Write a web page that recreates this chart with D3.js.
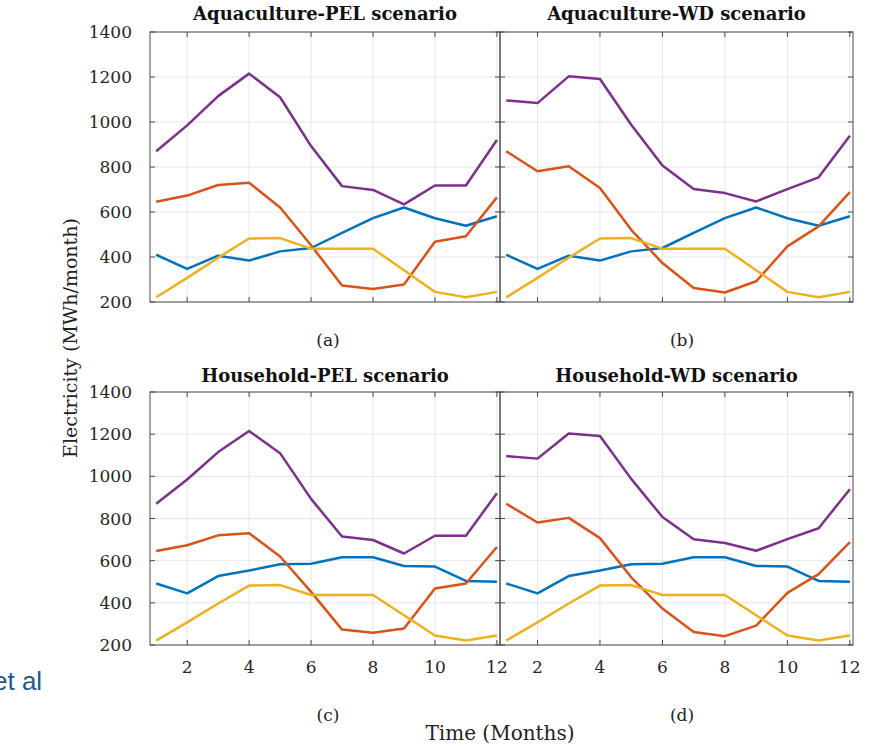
<!DOCTYPE html>
<html>
<head>
  <meta charset="utf-8">
  <title>Electricity scenarios</title>
  <script src="https://d3js.org/d3.v7.min.js"></script>
  <style>
    body, html { margin: 0; padding: 0; background: #fff; }
    svg { display: block; }
    .tick-label { font: 17px "DejaVu Serif", serif; fill: #262626; }
    .title { font: bold 18px "DejaVu Serif", serif; fill: #111; }
    .caption { font: 17px "DejaVu Serif", serif; fill: #222; }
    .grid { stroke: #e6e6e6; stroke-width: 1; }
    .frame { fill: none; stroke: #4a4a4a; stroke-width: 1; }
    .series { fill: none; stroke-width: 2.5; stroke-linejoin: round; }
  </style>
</head>
<body>
<svg width="870" height="746"></svg>
<script>
  // Months and the monthly electricity values (MWh/month)
  const months = [1, 2, 3, 4, 5, 6, 7, 8, 9, 10, 11, 12];
  const blueAqua  = [410, 347, 406, 384, 425, 440, 507, 573, 620, 572, 539, 581];
  const blueHouse = [492, 445, 527, 553, 583, 585, 616, 616, 575, 572, 504, 500];
  const orangePEL = [646, 673, 720, 730, 620, 452, 273, 258, 278, 468, 492, 665];
  const orangeWD  = [870, 781, 803, 707, 521, 373, 262, 242, 292, 447, 536, 688];
  const yellowAll = [221, 307, 397, 482, 484, 437, 437, 437, 341, 245, 221, 245];
  const purplePEL = [870, 985, 1115, 1215, 1110, 893, 715, 698, 634, 718, 718, 920];
  const purpleWD  = [1096, 1084, 1203, 1191, 988, 807, 702, 684, 647, 702, 754, 939];

  const xTicks = [2, 4, 6, 8, 10, 12];
  const yTicks = [200, 400, 600, 800, 1000, 1200, 1400];
  const colors = ["#0072BD", "#D95319", "#EDB120", "#7E2F8E"];

  const panels = [
    { title: "Aquaculture-PEL scenario", tag: "(a)", col: 0, row: 0, data: [blueAqua, orangePEL, yellowAll, purplePEL] },
    { title: "Aquaculture-WD scenario",  tag: "(b)", col: 1, row: 0, data: [blueAqua, orangeWD, yellowAll, purpleWD] },
    { title: "Household-PEL scenario",   tag: "(c)", col: 0, row: 1, data: [blueHouse, orangePEL, yellowAll, purplePEL] },
    { title: "Household-WD scenario",    tag: "(d)", col: 1, row: 1, data: [blueHouse, orangeWD, yellowAll, purpleWD] }
  ];

  const colX = [[150, 500], [500, 853]];
  const rowY = [[32, 302], [392, 645]];
  const tagX = [328, 682];
  const tagY = [346, 721];
  const titleY = [20, 382];

  const svg = d3.select("svg");

  panels.forEach(p => {
    const [x0, x1] = colX[p.col];
    const [y0, y1] = rowY[p.row];
    const x = d3.scaleLinear().domain([0.8, 12.1]).range([x0, x1]);
    const y = d3.scaleLinear().domain([200, 1400]).range([y1, y0]);
    const g = svg.append("g");

    // grid
    g.selectAll(".gx").data(xTicks).join("line").attr("class", "grid")
      .attr("x1", d => x(d)).attr("x2", d => x(d)).attr("y1", y0).attr("y2", y1);
    g.selectAll(".gy").data(yTicks).join("line").attr("class", "grid")
      .attr("x1", x0).attr("x2", x1).attr("y1", d => y(d)).attr("y2", d => y(d));

    // series
    const line = d3.line().x((d, i) => x(months[i])).y(d => y(d));
    p.data.forEach((s, i) => {
      g.append("path").attr("class", "series").attr("stroke", colors[i]).attr("d", line(s));
    });

    // inward ticks on all four sides
    const tl = 5;
    g.selectAll(".tb").data(xTicks).join("line").attr("class", "frame")
      .attr("x1", d => x(d)).attr("x2", d => x(d)).attr("y1", y1).attr("y2", y1 - tl);
    g.selectAll(".tt").data(xTicks).join("line").attr("class", "frame")
      .attr("x1", d => x(d)).attr("x2", d => x(d)).attr("y1", y0).attr("y2", y0 + tl);
    g.selectAll(".tl").data(yTicks).join("line").attr("class", "frame")
      .attr("x1", x0).attr("x2", x0 + tl).attr("y1", d => y(d)).attr("y2", d => y(d));
    g.selectAll(".tr").data(yTicks).join("line").attr("class", "frame")
      .attr("x1", x1).attr("x2", x1 - tl).attr("y1", d => y(d)).attr("y2", d => y(d));

    g.append("rect").attr("class", "frame")
      .attr("x", x0).attr("y", y0).attr("width", x1 - x0).attr("height", y1 - y0);

    // tick labels
    if (p.col === 0) {
      g.selectAll(".yl").data(yTicks).join("text").attr("class", "tick-label")
        .attr("x", x0 - 18).attr("y", d => y(d)).attr("dy", "0.36em")
        .attr("text-anchor", "end").text(d => d);
    }
    if (p.row === 1) {
      g.selectAll(".xl").data(xTicks).join("text").attr("class", "tick-label")
        .attr("x", d => x(d)).attr("y", y1 + 28)
        .attr("text-anchor", "middle").text(d => d);
    }

    g.append("text").attr("class", "title").attr("x", (x0 + x1) / 2).attr("y", titleY[p.row])
      .attr("text-anchor", "middle").text(p.title);
    g.append("text").attr("class", "caption").attr("x", tagX[p.col]).attr("y", tagY[p.row])
      .attr("text-anchor", "middle").text(p.tag);
  });

  // axis titles
  svg.append("text").attr("class", "caption")
    .attr("transform", "translate(77,338) rotate(-90)")
    .attr("text-anchor", "middle").style("font-size", "19px")
    .text("Electricity (MWh/month)");
  svg.append("text").attr("class", "caption")
    .attr("x", 500).attr("y", 740).attr("text-anchor", "middle").style("font-size", "20px")
    .text("Time (Months)");

  // partly clipped credit text at the lower left
  svg.append("text").attr("x", -7).attr("y", 690)
    .style("font", "26px 'Liberation Sans', Arial, sans-serif").style("fill", "#22598b")
    .text("et al");
</script>
</body>
</html>
